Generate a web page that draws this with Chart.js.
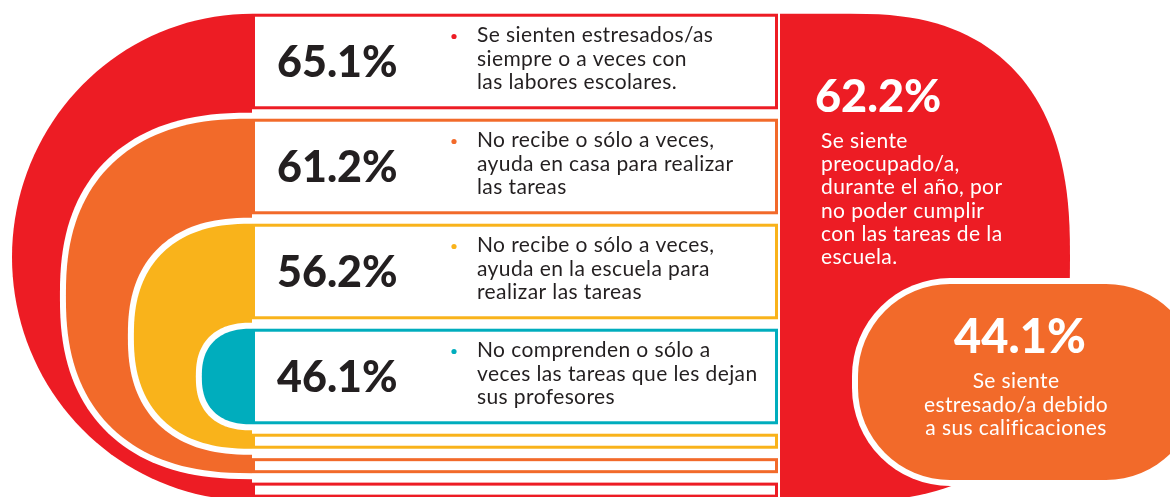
<!DOCTYPE html>
<html>
<head>
<meta charset="utf-8">
<script src="https://cdn.jsdelivr.net/npm/chart.js@4/dist/chart.umd.min.js"></script>
<style>
  html, body { margin: 0; padding: 0; background: #fff; }
  canvas { display: block; }
</style>
</head>
<body>
<canvas id="infoChart" width="1170" height="497"></canvas>
<script>
// Datos de las filas (de arriba hacia abajo)
const rowValues = [65.1, 61.2, 56.2, 46.1];
const rowColors = ['#ED1C24', '#F26A2A', '#F9B31B', '#00ADBD'];
const rowLines = [
  ['Se sienten estresados/as', 'siempre o a veces con', 'las labores escolares.'],
  ['No recibe o sólo a veces,', 'ayuda en casa para realizar', 'las tareas'],
  ['No recibe o sólo a veces,', 'ayuda en la escuela para', 'realizar las tareas'],
  ['No comprenden o sólo a', 'veces las tareas que les dejan', 'sus profesores']
];
const categories = rowLines.map(l => l.join(' '));

// Datos de los recuadros de la derecha
const sideValues = [62.2, 44.1];
const sideColors = ['#ED1C24', '#F26A2A'];
const sideLines = [
  ['Se siente', 'preocupado/a,', 'durante el año, por', 'no poder cumplir', 'con las tareas de la', 'escuela.'],
  ['Se siente', 'estresado/a debido', 'a sus calificaciones']
];

const TEXT = '#231F20';
const FONT = 'Lato, "Open Sans", sans-serif';

function pct(v) {
  return v.toFixed(1) + '%';
}

// puntos de media superelipse (lado izquierdo o derecho), de arriba hacia abajo
function superHalf(ctx, cx, cy, a, b, n, side) {
  const steps = 80;
  for (let s = 0; s <= steps; s++) {
    const t = -Math.PI / 2 + Math.PI * s / steps; // -90..90
    const c = Math.cos(t), sn = Math.sin(t);
    const px = cx + side * a * Math.pow(Math.abs(c), 2 / n);
    const py = cy + b * Math.sign(sn) * Math.pow(Math.abs(sn), 2 / n);
    ctx.lineTo(px, py);
  }
}

// forma izquierda cerrada en x
function leftShape(ctx, x, top, bottom, w, n) {
  const cy = (top + bottom) / 2, b = (bottom - top) / 2;
  ctx.beginPath();
  ctx.moveTo(x, top);
  superHalf(ctx, x, cy, w, b, n, -1);
  ctx.closePath();
}

function roundBox(ctx, x, y, w, h, r) {
  ctx.beginPath();
  ctx.moveTo(x + r, y);
  ctx.arcTo(x + w, y, x + w, y + h, r);
  ctx.arcTo(x + w, y + h, x, y + h, r);
  ctx.arcTo(x, y + h, x, y, r);
  ctx.arcTo(x, y, x + w, y, r);
  ctx.closePath();
}

const infographic = {
  id: 'infographic',
  beforeDatasetsDraw(chart) {
    const ctx = chart.ctx;
    const bars = chart.getDatasetMeta(0).data;
    const n = bars.length;
    const boxL = 252, boxR = 778, halo = 6, strip = 15;

    const rows = bars.map(b => ({ top: b.y - b.height / 2, bottom: b.y + b.height / 2, cy: b.y }));
    const gap = n > 1 ? rows[1].top - rows[0].bottom : 8;

    // limites de cada pista (la fila + su franja inferior)
    const bottoms = [];
    const stripTops = [];
    bottoms[n - 1] = rows[n - 1].bottom;
    let y = rows[n - 1].bottom;
    for (let i = n - 2; i >= 0; i--) {
      stripTops[i] = y + gap;
      bottoms[i] = stripTops[i] + strip;
      y = bottoms[i];
    }

    ctx.save();

    // pista exterior roja, de lado a lado
    const top0 = rows[0].top, bot0 = bottoms[0] + 3;
    const cy0 = (top0 + bot0) / 2, b0 = (bot0 - top0) / 2;
    const rightCx = 850;
    ctx.fillStyle = rowColors[0];
    ctx.beginPath();
    ctx.moveTo(boxL, top0);
    superHalf(ctx, rightCx, cy0, 220, b0, 2.5, 1);
    superHalf(ctx, boxL, cy0, 240, -b0, 2, -1);
    ctx.closePath();
    ctx.fill();

    // columna central blanca
    ctx.fillStyle = '#fff';
    ctx.fillRect(boxL, 0, boxR + 2 - boxL, chart.height);

    // pistas interiores
    for (let i = 1; i < n; i++) {
      const h2 = (bottoms[i] - rows[i].top) / 2;
      const w = h2 * 1.05;
      ctx.fillStyle = '#fff';
      leftShape(ctx, boxL, rows[i].top - halo, bottoms[i] + halo, w + halo, 2.4);
      ctx.fill();
      ctx.fillStyle = rowColors[i];
      leftShape(ctx, boxL, rows[i].top, bottoms[i], w, 2.4);
      ctx.fill();
    }

    // recuadros blancos y franjas
    ctx.lineWidth = 3;
    for (let i = 0; i < n; i++) {
      ctx.fillStyle = '#fff';
      ctx.strokeStyle = rowColors[i];
      ctx.fillRect(boxL, rows[i].top, boxR - boxL, rows[i].bottom - rows[i].top);
      ctx.strokeRect(boxL + 1.5, rows[i].top + 1.5, boxR - boxL - 3, rows[i].bottom - rows[i].top - 3);
      if (i < n - 1) {
        ctx.fillRect(boxL, stripTops[i], boxR - boxL, strip);
        ctx.strokeRect(boxL + 1.5, stripTops[i] + 1.5, boxR - boxL - 3, strip - 3);
      }
    }

    // textos de las filas
    for (let i = 0; i < n; i++) {
      const cy = rows[i].cy;
      ctx.fillStyle = TEXT;
      ctx.textAlign = 'left';
      ctx.textBaseline = 'alphabetic';
      ctx.letterSpacing = '0px';
      ctx.font = '900 43px ' + FONT;
      ctx.fillText(pct(rowValues[i]), 277, cy + 15);

      ctx.font = '21px ' + FONT;
      ctx.letterSpacing = '0.4px';
      rowLines[i].forEach((line, k) => {
        ctx.fillText(line, 477, cy + (k - 1) * 23.5 + 4);
      });
      ctx.fillStyle = rowColors[i];
      ctx.beginPath();
      ctx.arc(454, cy - 25, 2.6, 0, Math.PI * 2);
      ctx.fill();
    }

    // recuadro rojo derecho
    ctx.fillStyle = '#fff';
    ctx.textAlign = 'left';
    ctx.letterSpacing = '0px';
    ctx.font = '900 45px ' + FONT;
    ctx.fillText(pct(sideValues[0]), 815, 112);
    ctx.font = '21px ' + FONT;
    ctx.letterSpacing = '0.4px';
    sideLines[0].forEach((line, k) => {
      ctx.fillText(line, 821, 148 + k * 23.2);
    });

    // recuadro naranja
    const px = 858, py = 284, pw = 340, ph = 196;
    ctx.fillStyle = '#fff';
    roundBox(ctx, px - halo, py - halo, pw + halo * 2, ph + halo * 2, 92 + halo);
    ctx.fill();
    ctx.fillStyle = sideColors[1];
    roundBox(ctx, px, py, pw, ph, 92);
    ctx.fill();

    ctx.fillStyle = '#fff';
    ctx.textAlign = 'center';
    ctx.letterSpacing = '0px';
    ctx.font = '900 47px ' + FONT;
    ctx.fillText(pct(sideValues[1]), 1020, py + 69);
    ctx.font = '21px ' + FONT;
    ctx.letterSpacing = '0.4px';
    sideLines[1].forEach((line, k) => {
      ctx.fillText(line, 1016, py + 104 + k * 23.5);
    });

    ctx.restore();
  }
};

new Chart(document.getElementById('infoChart'), {
  type: 'bar',
  data: {
    labels: categories,
    datasets: [{
      data: rowValues,
      backgroundColor: 'rgba(0,0,0,0)',
      borderWidth: 0,
      barPercentage: 0.91,
      categoryPercentage: 1
    }]
  },
  options: {
    indexAxis: 'y',
    responsive: false,
    animation: false,
    devicePixelRatio: 1,
    layout: { padding: { top: 9, bottom: 68, left: 0, right: 0 } },
    scales: {
      x: { display: false, min: 0, max: 100 },
      y: { display: false }
    },
    plugins: {
      legend: { display: false },
      tooltip: { enabled: false }
    }
  },
  plugins: [infographic]
});
</script>
</body>
</html>
